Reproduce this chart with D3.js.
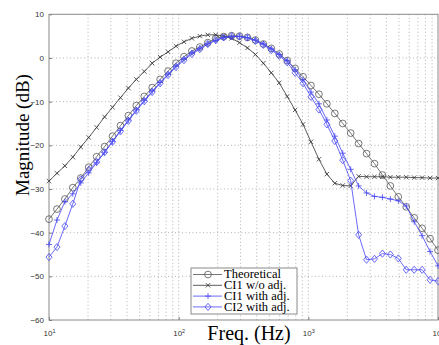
<!DOCTYPE html>
<html>
<head>
<meta charset="utf-8">
<script src="https://cdn.jsdelivr.net/npm/d3@7"></script>
<style>
  body { margin: 0; background: #fff; }
  svg { display: block; }
</style>
</head>
<body>
<script>
// frequency points (Hz), log spaced 10 .. 10k
var freqs = [10, 11.52, 13.26, 15.26, 17.58, 20.24, 23.30, 26.83, 30.89, 35.57,
    40.95, 47.15, 54.29, 62.51, 71.97, 82.86, 95.41, 109.9, 126.5, 145.6,
    167.7, 193.1, 222.3, 256.0, 294.7, 339.3, 390.7, 449.9, 518.0, 596.4,
    686.7, 790.7, 910.5, 1048, 1207, 1390, 1600, 1842, 2121, 2442,
    2812, 3237, 3728, 4292, 4942, 5690, 6551, 7543, 8685, 10000];

var theoretical = [-36.9, -34.6, -32.3, -29.7, -27.5, -25.0, -22.6, -20.3, -17.9, -15.5,
    -13.2, -10.9, -8.8, -6.8, -4.9, -3.0, -1.2, 0.3, 1.6, 2.5,
    3.5, 4.5, 4.9, 5.1, 5.0, 4.7, 4.1, 3.2, 2.2, 0.9,
    -0.6, -2.4, -4.3, -6.3, -8.3, -10.5, -12.7, -15.0, -17.2, -19.6,
    -21.9, -24.2, -26.8, -29.3, -31.8, -34.1, -36.6, -39.0, -41.4, -44.0];

var ci1NoAdj = [-28.2, -26.4, -24.7, -22.7, -20.4, -18.2, -15.9, -13.5, -11.3, -9.1,
    -6.9, -4.9, -3.1, -1.2, 0.2, 1.4, 2.7, 3.7, 4.5, 5.0,
    5.3, 5.3, 5.0, 4.5, 3.5, 2.3, 0.8, -1.2, -3.4, -5.7,
    -8.8, -11.9, -15.2, -19.2, -23.2, -26.6, -28.7, -29.2, -29.3, -27.1,
    -27.2, -27.2, -27.2, -27.3, -27.3, -27.3, -27.4, -27.4, -27.5, -27.5];

var ci1Adj = [-42.7, -37.1, -32.9, -31.1, -28.6, -26.3, -24.0, -21.6, -19.1, -16.6,
    -14.2, -11.9, -9.7, -7.6, -5.6, -3.7, -1.8, -0.2, 1.2, 2.2,
    3.2, 4.0, 4.6, 4.9, 4.9, 4.6, 4.1, 3.2, 2.1, 0.8,
    -0.6, -2.7, -5.0, -7.8, -10.5, -14.2, -17.9, -21.8, -25.5, -29.3,
    -30.9, -31.7, -31.9, -32.3, -32.7, -33.9, -37.5, -40.7, -44.3, -47.6];

var ci2Adj = [-45.6, -43.3, -38.5, -33.4, -27.8, -25.6, -23.8, -21.6, -19.2, -16.8,
    -14.4, -12.1, -9.9, -7.8, -5.8, -3.9, -2.1, -0.5, 0.9, 2.0,
    3.2, 4.1, 4.7, 5.0, 4.9, 4.7, 3.9, 3.0, 1.8, 0.5,
    -1.0, -3.4, -5.8, -8.9, -11.8, -15.2, -19.0, -23.4, -28.1, -40.5,
    -46.2, -46.0, -44.8, -45.0, -45.9, -48.5, -48.5, -48.5, -50.8, -51.1];

var yTicks = [-60, -50, -40, -30, -20, -10, 0, 10];
var xDecades = [10, 100, 1000, 10000];
var legendLabels = ["Theoretical", "CI1 w/o adj.", "CI1 with adj.", "CI2 with adj."];

var W = 439, H = 345;
var plotLeft = 49, plotRight = 438, plotTop = 14.3, plotBottom = 320;

var svg = d3.select("body").append("svg")
    .attr("width", W)
    .attr("height", H);

var x = d3.scaleLog().domain([10, 10000]).range([plotLeft, plotRight]);
var y = d3.scaleLinear().domain([-60, 10]).range([plotBottom, plotTop]);

// grid lines
var minorX = [];
xDecades.slice(0, 3).forEach(function (d) {
    for (var k = 1; k <= 9; k++) minorX.push(d * k);
});

svg.append("g").selectAll("line")
    .data(minorX.filter(function (d) { return d > 10; }))
    .enter().append("line")
    .attr("x1", function (d) { return x(d); })
    .attr("x2", function (d) { return x(d); })
    .attr("y1", plotTop).attr("y2", plotBottom)
    .style("stroke", "#a0a0a0")
    .style("stroke-width", 0.8)
    .style("stroke-dasharray", "1,2.5");

svg.append("g").selectAll("line")
    .data(yTicks.filter(function (d) { return d > -60 && d < 10; }))
    .enter().append("line")
    .attr("x1", plotLeft).attr("x2", plotRight)
    .attr("y1", function (d) { return y(d); })
    .attr("y2", function (d) { return y(d); })
    .style("stroke", "#a0a0a0")
    .style("stroke-width", 0.8)
    .style("stroke-dasharray", "1,2.5");

// axes (ticks inward, MATLAB style)
var yAxis = svg.append("g")
    .attr("transform", "translate(" + plotLeft + ",0)")
    .call(d3.axisLeft(y).tickValues(yTicks).tickSize(-3).tickPadding(5));
yAxis.select(".domain").remove();
yAxis.selectAll("text")
    .style("font-family", "Arial, 'Liberation Sans', sans-serif")
    .style("font-size", "8px")
    .style("fill", "#333");
yAxis.selectAll("line").style("stroke", "#777");

var xAxis = svg.append("g")
    .attr("transform", "translate(0," + plotBottom + ")")
    .call(d3.axisBottom(x).tickValues(xDecades).tickSize(-3).tickPadding(5).tickFormat(function () { return ""; }));
xAxis.select(".domain").remove();
xAxis.selectAll("line").style("stroke", "#777");
xAxis.selectAll(".tick text").each(function (d) {
    var t = d3.select(this)
        .style("font-family", "Arial, 'Liberation Sans', sans-serif")
        .style("fill", "#333")
        .attr("dy", "1.1em");
    t.append("tspan").style("font-size", "8px").text("10");
    t.append("tspan").style("font-size", "5.5px").attr("dy", "-0.5em")
        .text(Math.round(Math.log10(d)));
});

// frame
svg.append("rect")
    .attr("x", plotLeft).attr("y", plotTop)
    .attr("width", plotRight - plotLeft).attr("height", plotBottom - plotTop)
    .style("fill", "none")
    .style("stroke", "#8a8a8a")
    .style("stroke-width", 1);

// series
var series = [
    {name: legendLabels[0], values: theoretical, color: "#555", marker: "circle"},
    {name: legendLabels[1], values: ci1NoAdj, color: "#333", marker: "cross"},
    {name: legendLabels[2], values: ci1Adj, color: "#4545f5", marker: "plus"},
    {name: legendLabels[3], values: ci2Adj, color: "#4545f5", marker: "diamond"}
];

var line = d3.line()
    .x(function (d) { return x(d[0]); })
    .y(function (d) { return y(d[1]); });

function markerPath(type) {
    if (type === "circle") return d3.symbol().type(d3.symbolCircle).size(36)();
    if (type === "cross") return "M-2.2,-2.2L2.2,2.2M-2.2,2.2L2.2,-2.2";
    if (type === "plus") return "M-3,0L3,0M0,-3L0,3";
    return "M0,-3.6L3,0L0,3.6L-3,0Z";
}

var plot = svg.append("g");

series.forEach(function (s) {
    var pts = freqs.map(function (f, i) { return [f, s.values[i]]; });
    plot.append("path")
        .datum(pts)
        .attr("d", line)
        .style("fill", "none")
        .style("stroke", s.color)
        .style("stroke-width", 0.8);
    plot.selectAll(null)
        .data(pts)
        .enter().append("path")
        .attr("transform", function (d) { return "translate(" + x(d[0]) + "," + y(d[1]) + ")"; })
        .attr("d", markerPath(s.marker))
        .style("fill", "none")
        .style("stroke", s.color)
        .style("stroke-width", 0.8);
});

// legend
var lg = svg.append("g").attr("transform", "translate(191,268)");
lg.append("rect")
    .attr("width", 106).attr("height", 46)
    .style("fill", "#fff")
    .style("stroke", "#8a8a8a")
    .style("stroke-width", 1);

series.forEach(function (s, i) {
    var yy = 6.5 + i * 10.8;
    lg.append("line")
        .attr("x1", 2).attr("x2", 31)
        .attr("y1", yy).attr("y2", yy)
        .style("stroke", s.color)
        .style("stroke-width", 0.8);
    lg.append("path")
        .attr("transform", "translate(17," + yy + ")")
        .attr("d", markerPath(s.marker))
        .style("fill", "none")
        .style("stroke", s.color)
        .style("stroke-width", 0.8);
    lg.append("text")
        .attr("x", 33).attr("y", yy + 3.8)
        .style("font-family", "'Liberation Serif', 'Times New Roman', serif")
        .style("font-size", "12.5px")
        .style("fill", "#000")
        .text(s.name);
});

// axis titles
svg.append("text")
    .attr("transform", "translate(29,135) rotate(-90)")
    .attr("text-anchor", "middle")
    .style("font-family", "'Liberation Serif', 'Times New Roman', serif")
    .style("font-size", "19px")
    .text("Magnitude (dB)");

svg.append("text")
    .attr("x", 249).attr("y", 340)
    .attr("text-anchor", "middle")
    .style("font-family", "'Liberation Serif', 'Times New Roman', serif")
    .style("font-size", "20px")
    .text("Freq. (Hz)");
</script>
</body>
</html>
